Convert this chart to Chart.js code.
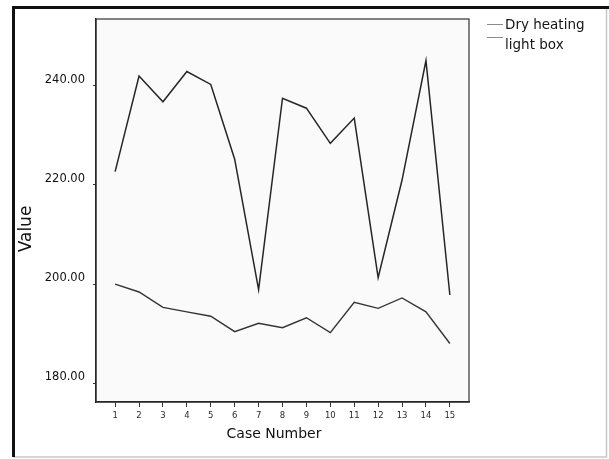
<!DOCTYPE html>
<html>
<head>
<meta charset="utf-8">
<title>Value by case number</title>
<script src="https://cdn.jsdelivr.net/npm/chart.js@4/dist/chart.umd.min.js"></script>
<style>
  html, body { margin: 0; padding: 0; background: #fff; }
  #wrap { width: 609px; height: 459px; }
</style>
</head>
<body>
<div id="wrap"><canvas id="chart" width="609" height="459"></canvas></div>
<script>
// === Data ===
var caseNumbers = [1, 2, 3, 4, 5, 6, 7, 8, 9, 10, 11, 12, 13, 14, 15];
var dryHeating  = [222.7, 242.0, 236.8, 242.9, 240.3, 225.2, 198.9, 237.5, 235.5, 228.4, 233.5, 201.3, 221.0, 245.1, 197.8];
var lightBox    = [200.0, 198.4, 195.3, 194.4, 193.5, 190.4, 192.1, 191.2, 193.2, 190.2, 196.3, 195.1, 197.2, 194.4, 188.0];
var yTicks = [180, 200, 220, 240];
var seriesLabels = ['Dry heating', 'light box'];
var xTitle = 'Case Number';
var yTitle = 'Value';

var FONT = '"DejaVu Sans", Verdana, sans-serif';

function toPoints(values) {
    return values.map(function(v, i) { return { x: caseNumbers[i], y: v }; });
}

// frame, plot box, axis titles and legend, drawn around the chart
var framePlugin = {
    id: 'spssFrame',
    beforeDraw: function(chart) {
        var ctx = chart.ctx, a = chart.chartArea;
        ctx.save();
        ctx.fillStyle = '#fafafa';
        ctx.fillRect(a.left, a.top, a.right - a.left, a.bottom - a.top);
        ctx.restore();
    },
    afterDraw: function(chart) {
        var ctx = chart.ctx, a = chart.chartArea;
        ctx.save();

        // outer border
        ctx.strokeStyle = '#c8c8c8';
        ctx.lineWidth = 1.5;
        ctx.beginPath();
        ctx.moveTo(606.5, 7); ctx.lineTo(606.5, 457); ctx.lineTo(13, 457);
        ctx.stroke();
        ctx.strokeStyle = '#111';
        ctx.lineWidth = 3;
        ctx.beginPath();
        ctx.moveTo(13.5, 457); ctx.lineTo(13.5, 7.5); ctx.lineTo(609, 7.5);
        ctx.stroke();

        // plot box
        ctx.strokeStyle = '#333';
        ctx.lineWidth = 1.2;
        ctx.strokeRect(a.left, a.top, a.right - a.left, a.bottom - a.top);

        // axis titles
        ctx.fillStyle = '#111';
        ctx.textAlign = 'center';
        ctx.textBaseline = 'middle';
        ctx.font = '14px ' + FONT;
        ctx.fillText(xTitle, 274, 434);
        ctx.save();
        ctx.translate(27, 229);
        ctx.rotate(-Math.PI / 2);
        ctx.font = '17px ' + FONT;
        ctx.fillText(yTitle, 0, 0);
        ctx.restore();

        // legend
        var lineY = [24, 37], textY = [25, 45];
        ctx.textAlign = 'left';
        ctx.font = '13.5px ' + FONT;
        chart.data.datasets.forEach(function(ds, i) {
            ctx.strokeStyle = '#8a8a8a';
            ctx.lineWidth = 1;
            ctx.beginPath();
            ctx.moveTo(487, lineY[i] + 0.5);
            ctx.lineTo(503, lineY[i] + 0.5);
            ctx.stroke();
            ctx.fillStyle = '#151515';
            ctx.fillText(ds.label, 505, textY[i]);
        });
        ctx.restore();
    }
};

var ctx = document.getElementById('chart').getContext('2d');
new Chart(ctx, {
    type: 'line',
    data: {
        datasets: [
            {
                label: seriesLabels[0],
                data: toPoints(dryHeating),
                borderColor: '#262626',
                borderWidth: 1.5,
                pointRadius: 0,
                tension: 0,
                fill: false
            },
            {
                label: seriesLabels[1],
                data: toPoints(lightBox),
                borderColor: '#333',
                borderWidth: 1.4,
                pointRadius: 0,
                tension: 0,
                fill: false
            }
        ]
    },
    options: {
        responsive: false,
        animation: false,
        layout: { padding: { top: 19, right: 140, left: 0, bottom: 0 } },
        plugins: {
            legend: { display: false },
            tooltip: { enabled: false }
        },
        scales: {
            x: {
                type: 'linear',
                min: 0.2,
                max: 15.8,
                afterBuildTicks: function(scale) {
                    scale.ticks = caseNumbers.map(function(v) { return { value: v }; });
                },
                afterFit: function(scale) { scale.height = 57; },
                grid: { display: true, drawOnChartArea: false, tickLength: 5, color: '#333', lineWidth: 1 },
                border: { display: true, color: '#1a1a1a', width: 1.4 },
                ticks: {
                    autoSkip: false,
                    maxRotation: 0,
                    padding: 4,
                    color: '#2a2a2a',
                    font: { family: FONT, size: 8.5 },
                    callback: function(v) { return String(v); }
                }
            },
            y: {
                min: 176.2,
                max: 253.5,
                afterBuildTicks: function(scale) {
                    scale.ticks = yTicks.map(function(v) { return { value: v }; });
                },
                afterFit: function(scale) { scale.width = 96; },
                grid: { display: true, drawOnChartArea: false, tickLength: 3, color: '#333', lineWidth: 1 },
                border: { display: true, color: '#1a1a1a', width: 1.4 },
                ticks: {
                    padding: 8,
                    labelOffset: -6,
                    color: '#111',
                    font: { family: FONT, size: 11.5 },
                    callback: function(v) { return Number(v).toFixed(2); }
                }
            }
        }
    },
    plugins: [framePlugin]
});
</script>
</body>
</html>
